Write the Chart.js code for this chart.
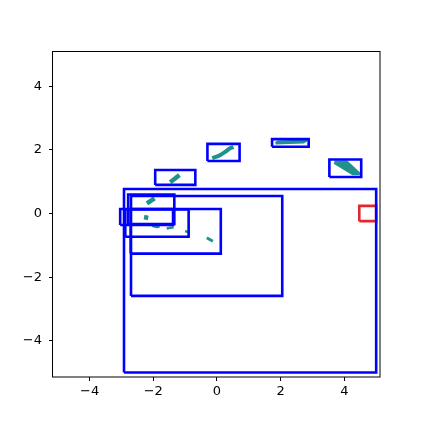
<!DOCTYPE html>
<html>
<head>
<meta charset="utf-8">
<script src="https://cdn.jsdelivr.net/npm/chart.js@4/dist/chart.umd.min.js"></script>
<style>html,body{margin:0;padding:0;background:#fff;}canvas{display:block;}</style>
</head>
<body>
<canvas id="c" width="423" height="423"></canvas>
<script>
// Axis ticks
const xTicks = [-4, -2, 0, 2, 4];
const yTicks = [-4, -2, 0, 2, 4];
const xRange = [-5.15, 5.12];
const yRange = [-5.14, 5.11];

// Blue boxes: [x0, y0, x1, y1]
const blueBoxes = [
  [-2.92, -5.00, 5.00, 0.77],
  [-2.70, -2.59, 2.05, 0.55],
  [-2.71, -1.26, 0.12, 0.14],
  [-2.88, -0.73, -0.89, 0.13],
  [-3.04, -0.36, -1.38, 0.14],
  [-2.79, -0.33, -1.34, 0.60],
  [-1.94, 0.90, -0.68, 1.37],
  [-0.30, 1.65, 0.71, 2.19],
  [1.73, 2.10, 2.88, 2.34],
  [3.53, 1.15, 4.53, 1.70]
];
// Red box
const redBoxes = [
  [4.47, -0.24, 5.00, 0.24]
];

// Green strokes: list of [x, y] points, and stroke widths
const greenStrokes = [
  [[-0.15, 1.74], [0.07, 1.82], [0.26, 1.94], [0.41, 2.05], [0.52, 2.09]],
  [[-1.47, 0.98], [-1.18, 1.21]],
  [[-2.20, 0.32], [-1.96, 0.48]],
  [[-2.29, -0.11], [-2.16, -0.14]],
  [[-2.04, -0.38], [-1.92, -0.42], [-1.80, -0.41]],
  [[-1.58, -0.47], [-1.36, -0.43]],
  [[-1.00, -0.55], [-0.86, -0.60]],
  [[-0.32, -0.76], [-0.13, -0.87]]
];
const greenWidths = [4, 4.5, 4.5, 4.5, 2.5, 2.5, 2.5, 3];
// Green filled shapes (polygons)
const greenShapes = [
  [[3.69, 1.61], [4.07, 1.61], [4.45, 1.26], [4.27, 1.26]],
  [[1.84, 2.21], [1.92, 2.26], [2.80, 2.29], [2.72, 2.24]]
];
const shapeWidths = [3.5, 2.5];

const BLUE = '#0000ff';
const RED = '#e0282e';
const TEAL = '#21918c';

function boxPts(b) {
  return [{x:b[0],y:b[1]},{x:b[2],y:b[1]},{x:b[2],y:b[3]},{x:b[0],y:b[3]},{x:b[0],y:b[1]}];
}
const datasets = [];
blueBoxes.forEach(b => datasets.push({
  data: boxPts(b), showLine: true, borderColor: BLUE, borderWidth: 2.6,
  pointRadius: 0, fill: false, tension: 0, borderJoinStyle: 'miter', order: 1
}));
greenStrokes.forEach((s, i) => datasets.push({
  data: s.map(p => ({x:p[0], y:p[1]})), showLine: true, borderColor: TEAL,
  borderWidth: greenWidths[i], pointRadius: 0, fill: false, tension: 0.3,
  borderCapStyle: 'butt', order: 2
}));
greenShapes.forEach((s, i) => datasets.push({
  data: s.concat([s[0]]).map(p => ({x:p[0], y:p[1]})), showLine: true,
  borderColor: TEAL, backgroundColor: TEAL, borderWidth: shapeWidths[i], pointRadius: 0,
  fill: 'shape', tension: 0, borderJoinStyle: 'round', order: 2
}));
redBoxes.forEach(b => datasets.push({
  data: boxPts(b), showLine: true, borderColor: RED, borderWidth: 2.6,
  pointRadius: 0, fill: false, tension: 0, borderJoinStyle: 'miter', order: 3
}));

const frame = {
  id: 'frame',
  afterDatasetsDraw(chart) {
    const a = chart.chartArea, ctx = chart.ctx;
    ctx.save();
    ctx.strokeStyle = '#000';
    ctx.lineWidth = 1;
    ctx.strokeRect(Math.round(a.left) - 0.5, Math.round(a.top) + 0.5,
      Math.round(a.right - a.left) + 0.5, Math.round(a.bottom - a.top) - 0.5);
    ctx.restore();
  }
};

const fmt = v => (v < 0 ? '\u2212' + Math.abs(v) : String(v));
const font = { family: 'DejaVu Sans', size: 13 };

new Chart(document.getElementById('c'), {
  type: 'scatter',
  data: { datasets },
  options: {
    responsive: false,
    animation: false,
    devicePixelRatio: 1,
    layout: { padding: { left: 0, top: 51, right: 43, bottom: 0 } },
    plugins: { legend: { display: false }, tooltip: { enabled: false } },
    scales: {
      x: {
        type: 'linear', min: xRange[0], max: xRange[1],
        afterBuildTicks: s => { s.ticks = xTicks.map(v => ({ value: v })); },
        afterFit: s => { s.height = 46; },
        grid: { drawOnChartArea: false, drawTicks: true, tickLength: 4, color: '#000', tickWidth: 1 },
        border: { display: false },
        ticks: { color: '#000', font, padding: 3, callback: v => fmt(v), maxRotation: 0 }
      },
      y: {
        type: 'linear', min: yRange[0], max: yRange[1],
        afterBuildTicks: s => { s.ticks = yTicks.map(v => ({ value: v })); },
        afterFit: s => { s.width = 53; },
        grid: { drawOnChartArea: false, drawTicks: true, tickLength: 4, color: '#000', tickWidth: 1 },
        border: { display: false },
        ticks: { color: '#000', font, padding: 7, callback: v => fmt(v) }
      }
    }
  },
  plugins: [frame]
});
</script>
</body>
</html>
